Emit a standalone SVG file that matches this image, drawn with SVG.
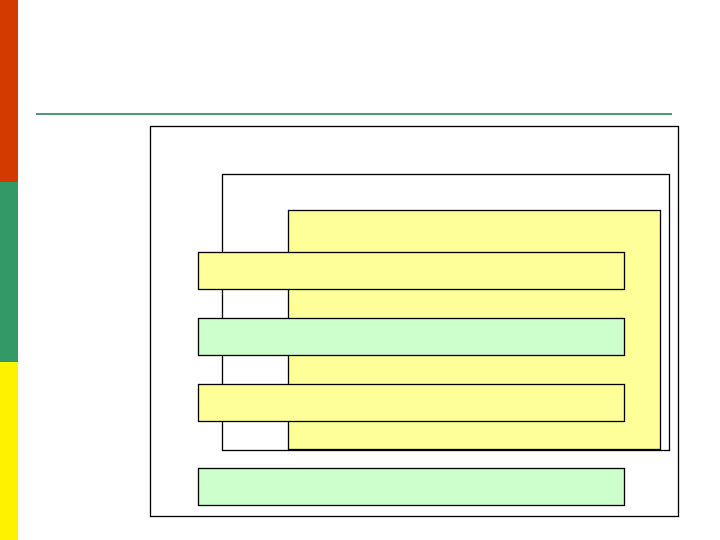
<svg xmlns="http://www.w3.org/2000/svg" width="720" height="540" viewBox="0 0 720 540">
<style>
.box{fill:none;stroke:#000;stroke-width:1.3}
.y{fill:#FFFF99;stroke:#000;stroke-width:1.3}
.g{fill:#CCFFCC;stroke:#000;stroke-width:1.3}
</style>
<rect width="720" height="540" fill="#fff"/>
<g id="sidebar">
<rect x="0" y="0" width="18" height="182" fill="#D23A00"/>
<rect x="0" y="182" width="18" height="180" fill="#339966"/>
<rect x="0" y="362" width="18" height="178" fill="#FFF200"/>
</g>
<line x1="36" y1="114" x2="672" y2="114" stroke="#4E9A78" stroke-width="2"/>
<g id="outer"><rect class="box" x="150.5" y="126.5" width="528" height="390" fill="#fff"/></g>
<g id="middle"><rect class="box" x="222.5" y="174.5" width="447" height="276"/></g>
<g id="inner"><rect class="y" x="288.5" y="210.5" width="372" height="239"/><line x1="288" y1="450" x2="661" y2="450" stroke="#000" stroke-width="1.5"/></g>
<g id="bar1"><rect class="y" x="198.5" y="252.5" width="426" height="37"/></g>
<g id="bar2"><rect class="g" x="198.5" y="318.5" width="426" height="37"/></g>
<g id="bar3"><rect class="y" x="198.5" y="384.5" width="426" height="37"/></g>
<g id="bar4"><rect class="g" x="198.5" y="468.5" width="426" height="37"/></g>
<g id="connectors"></g>
</svg>
